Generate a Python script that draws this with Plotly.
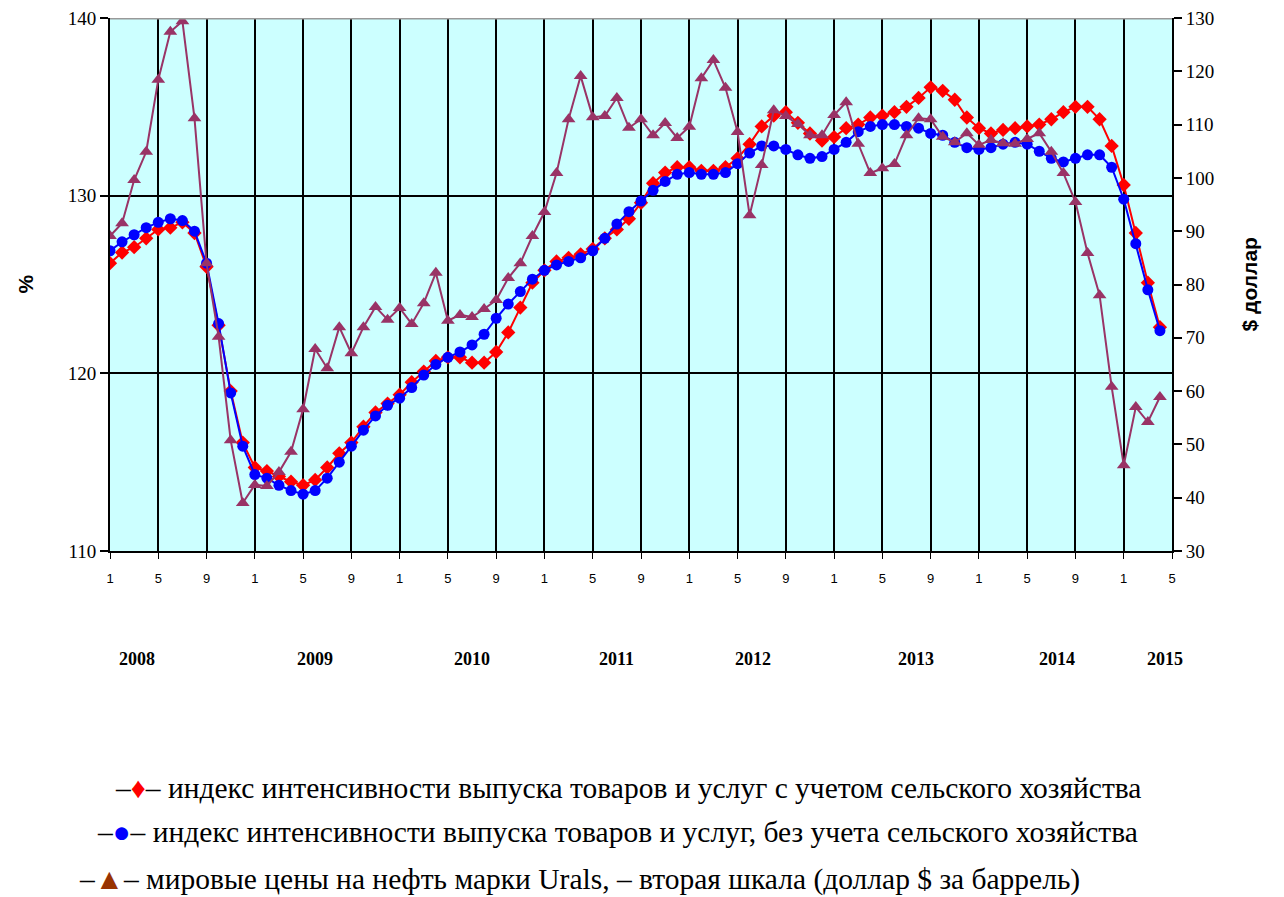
import plotly.graph_objects as go

# months from 2008-01 (index 0) to 2015-04 (index 87)
with_agri = [126.2, 126.8, 127.1, 127.6, 128.1, 128.2, 128.5, 127.9, 126.0, 122.7,
             119.0, 116.1, 114.7, 114.5, 114.2, 113.9, 113.7, 114.0, 114.7, 115.5,
             116.1, 117.0, 117.8, 118.3, 118.8, 119.5, 120.1, 120.7, 120.9, 120.9,
             120.6, 120.6, 121.2, 122.3, 123.7, 125.1, 125.8, 126.3, 126.5, 126.7,
             127.0, 127.6, 128.1, 128.7, 129.6, 130.7, 131.3, 131.6, 131.6, 131.4,
             131.4, 131.6, 132.1, 132.9, 133.9, 134.5, 134.7, 134.1, 133.5, 133.1,
             133.3, 133.8, 134.0, 134.4, 134.5, 134.7, 135.0, 135.5, 136.1, 135.9,
             135.4, 134.4, 133.8, 133.5, 133.7, 133.8, 133.9, 134.0, 134.3, 134.7,
             135.0, 135.0, 134.3, 132.8, 130.6, 127.9, 125.1, 122.6]
without_agri = [126.9, 127.4, 127.8, 128.2, 128.5, 128.7, 128.6, 128.0, 126.2, 122.8,
                118.9, 115.9, 114.3, 114.1, 113.7, 113.4, 113.2, 113.4, 114.1, 115.0,
                115.9, 116.8, 117.6, 118.2, 118.6, 119.2, 119.9, 120.5, 120.9, 121.2,
                121.6, 122.2, 123.1, 123.9, 124.6, 125.3, 125.8, 126.1, 126.3, 126.5,
                126.9, 127.6, 128.4, 129.1, 129.7, 130.3, 130.8, 131.2, 131.3, 131.2,
                131.2, 131.3, 131.8, 132.4, 132.8, 132.8, 132.6, 132.3, 132.1, 132.2,
                132.6, 133.0, 133.6, 133.9, 134.0, 134.0, 133.9, 133.8, 133.5, 133.4,
                133.0, 132.7, 132.6, 132.7, 132.9, 133.0, 132.9, 132.5, 132.1, 131.9,
                132.1, 132.3, 132.3, 131.6, 129.8, 127.3, 124.7, 122.4]
urals = [89.1, 91.5, 99.6, 104.9, 118.4, 127.4, 129.4, 111.2, 84.0, 70.2,
         50.8, 39.0, 42.4, 42.2, 44.8, 48.6, 56.6, 67.9, 64.3, 72.0,
         67.1, 72.0, 75.8, 73.4, 75.6, 72.6, 76.5, 82.2, 73.2, 74.3,
         73.9, 75.4, 77.1, 81.2, 84.0, 89.1, 93.6, 100.9, 111.0, 119.1,
         111.4, 111.6, 115.0, 109.4, 111.0, 108.0, 110.3, 107.5, 109.6, 118.7,
         122.1, 116.9, 108.6, 93.0, 102.4, 112.7, 111.6, 110.1, 108.0, 108.0,
         111.8, 114.2, 106.4, 100.9, 101.8, 102.6, 108.0, 111.2, 111.0, 107.7,
         106.7, 108.4, 106.2, 107.1, 106.5, 106.4, 107.3, 108.4, 104.9, 100.9,
         95.5, 85.9, 78.0, 60.8, 46.1, 57.0, 54.2, 58.9]

month_ticks = ["1", "5", "9"] * 7 + ["1", "5"]
years = ["2008", "2009", "2010", "2011", "2012", "2013", "2014", "2015"]
year_pos = [2.2, 17, 30, 42, 53.3, 66.8, 78.5, 87.4]

legend_texts = [
    "индекс интенсивности выпуска товаров и услуг с учетом сельского хозяйства",
    "индекс интенсивности выпуска товаров и услуг, без учета сельского хозяйства",
    "мировые цены на нефть марки Urals, – вторая шкала (доллар $ за баррель)",
]

x = list(range(len(with_agri)))

fig = go.Figure()
fig.add_trace(go.Scatter(x=x, y=with_agri, mode="lines+markers",
                         line=dict(color="#FF0000", width=2),
                         marker=dict(symbol="diamond", size=11, color="#FF0000"),
                         showlegend=False))
fig.add_trace(go.Scatter(x=x, y=without_agri, mode="lines+markers",
                         line=dict(color="#0000FF", width=2),
                         marker=dict(symbol="circle", size=11, color="#0000FF"),
                         showlegend=False))
fig.add_trace(go.Scatter(x=x, y=urals, mode="lines+markers", yaxis="y2",
                         line=dict(color="#993366", width=2),
                         marker=dict(symbol="triangle-up", size=12, color="#993366"),
                         showlegend=False))

serif = "Liberation Serif"
sans = "Liberation Sans"

fig.update_layout(
    width=1284, height=897,
    margin=dict(l=110, r=112, t=18, b=346),
    paper_bgcolor="white",
    plot_bgcolor="#CCFFFF",
    xaxis=dict(range=[0, 88], tickmode="array",
               tickvals=list(range(0, 89, 4)), ticktext=month_ticks,
               showgrid=True, gridcolor="black", gridwidth=2,
               showline=True, linecolor="black", linewidth=2,
               ticks="outside", ticklen=6, tickcolor="black", tickwidth=1,
               ticklabelstandoff=8, automargin=False,
               tickfont=dict(family=sans, size=13, color="black"),
               zeroline=False),
    yaxis=dict(range=[110, 140], tickvals=[110, 120, 130, 140],
               showgrid=True, gridcolor="black", gridwidth=2,
               showline=True, linecolor="black", linewidth=2,
               ticks="outside", ticklen=8, tickcolor="black", tickwidth=2,
               automargin=False,
               tickfont=dict(family=serif, size=19, color="black"),
               zeroline=False),
    yaxis2=dict(range=[30, 130], tickvals=list(range(30, 131, 10)),
                overlaying="y", side="right", showgrid=False,
                showline=True, linecolor="black", linewidth=2,
                ticks="outside", ticklen=8, tickcolor="black", tickwidth=2,
                automargin=False,
                tickfont=dict(family=serif, size=19, color="black"),
                zeroline=False),
)

# gray top border
fig.add_shape(type="line", xref="paper", yref="y", x0=0, x1=1, y0=140, y1=140,
              line=dict(color="#999999", width=3))

for yr, pos in zip(years, year_pos):
    fig.add_annotation(x=pos, y=-0.225, xref="x", yref="paper", text="<b>" + yr + "</b>",
                       showarrow=False, font=dict(family=serif, size=18, color="black"))

fig.add_annotation(x=-0.080, y=0.5, xref="paper", yref="paper", text="<b>%</b>",
                   textangle=-90, showarrow=False, xanchor="center", yanchor="middle",
                   font=dict(family=sans, size=21, color="black"))
fig.add_annotation(x=1.0734, y=0.5, xref="paper", yref="paper", text="<b>$ доллар</b>",
                   textangle=-90, showarrow=False, xanchor="center", yanchor="middle",
                   font=dict(family=sans, size=21, color="black"))

symbols = [("♦", "#FF0000"), ("●", "#0000FF"), ("▲", "#993300")]
leg_x = [113, 95, 77]
leg_y = [788, 832, 880]
for (sym, col), txt, lx, ly in zip(symbols, legend_texts, leg_x, leg_y):
    fig.add_annotation(
        x=(lx - 110) / 1062, y=(551 - ly) / 533, xref="paper", yref="paper",
        xanchor="left", yanchor="middle", showarrow=False,
        text="–<span style='color:" + col + "'>" + sym + "</span>– " + txt,
        font=dict(family=serif, size=29.5, color="black"))

fig.write_html("out.html", config={"displayModeBar": False},
               post_script="document.body.style.margin='0';window.dispatchEvent(new Event('resize'));")
